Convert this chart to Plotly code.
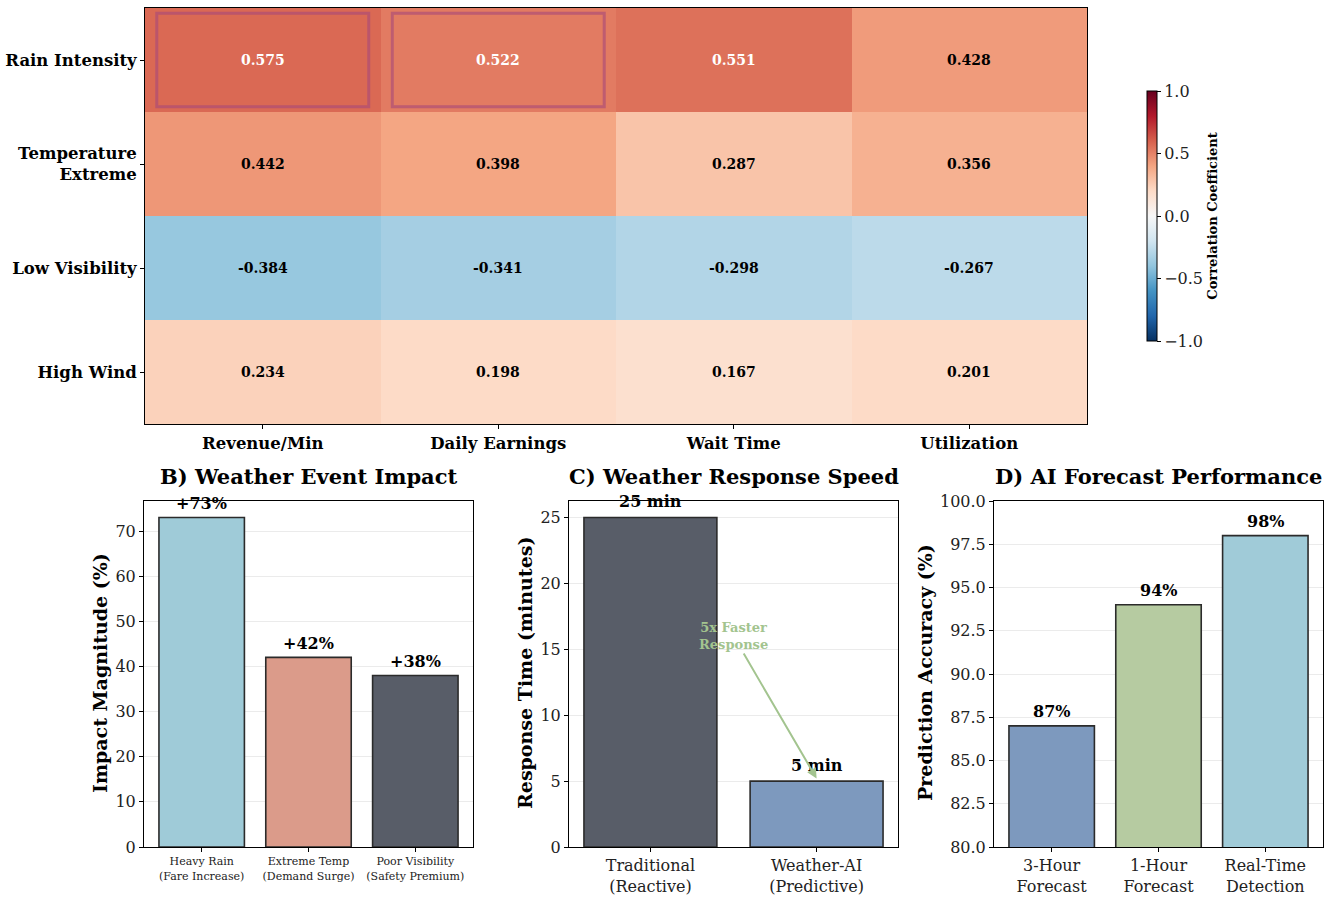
import plotly.graph_objects as go

# ---------------- data ----------------
weather_factors = ["Rain Intensity", "Temperature<br>Extreme", "Low Visibility", "High Wind"]
metrics = ["Revenue/Min", "Daily Earnings", "Wait Time", "Utilization"]
corr_values = [
    [0.575, 0.522, 0.551, 0.428],
    [0.442, 0.398, 0.287, 0.356],
    [-0.384, -0.341, -0.298, -0.267],
    [0.234, 0.198, 0.167, 0.201],
]
highlight_cells = [(0, 0), (0, 1)]  # (row, col)

impact_labels = ["Heavy Rain<br>(Fare Increase)", "Extreme Temp<br>(Demand Surge)", "Poor Visibility<br>(Safety Premium)"]
impact_values = [73, 42, 38]
impact_colors = ["#9FCBD8", "#DB9B8A", "#585D68"]

response_labels = ["Traditional<br>(Reactive)", "Weather-AI<br>(Predictive)"]
response_values = [25, 5]
response_colors = ["#585D68", "#7D99BE"]

forecast_labels = ["3-Hour<br>Forecast", "1-Hour<br>Forecast", "Real-Time<br>Detection"]
forecast_values = [87, 94, 98]
forecast_colors = ["#7D99BE", "#B6CBA1", "#A0CBD8"]

# ---------------- helpers ----------------
W, H = 1332, 897
FONT = "DejaVu Serif"

def px_x(p):
    return p / W

def px_y(p):
    return 1 - p / H

rdbu_r = [
    [0.0, "#053061"], [0.1, "#2166ac"], [0.2, "#4393c3"], [0.3, "#92c5de"],
    [0.4, "#d1e5f0"], [0.5, "#f7f7f7"], [0.6, "#fddbc7"], [0.7, "#f4a582"],
    [0.8, "#d6604d"], [0.9, "#b2182b"], [1.0, "#67001f"],
]

fig = go.Figure()

# ---------------- heatmap ----------------
fig.add_trace(go.Heatmap(
    z=corr_values, x=list(range(len(metrics))), y=list(range(len(weather_factors))),
    colorscale=rdbu_r, zmin=-1, zmax=1, xaxis="x", yaxis="y",
    showscale=True, hoverinfo="skip",
    colorbar=dict(
        x=px_x(1147), xanchor="left", y=px_y(216), yanchor="middle",
        xpad=0, ypad=0,
        thickness=10, thicknessmode="pixels", len=250, lenmode="pixels",
        outlinecolor="black", outlinewidth=1,
        tickvals=[-1, -0.5, 0, 0.5, 1],
        ticktext=["\u22121.0", "\u22120.5", "0.0", "0.5", "1.0"],
        ticks="outside", ticklen=4, tickcolor="black",
        tickfont=dict(family=FONT, size=16, color="#222"),
        title=dict(text="<b>Correlation Coefficient</b>", side="right",
                   font=dict(family=FONT, size=13, color="black")),
    ),
))

annotations = []
for i, row in enumerate(corr_values):
    for j, v in enumerate(row):
        annotations.append(dict(
            x=j, y=i, xref="x", yref="y", text=f"<b>{v:.3f}</b>", showarrow=False,
            font=dict(family=FONT, size=14, color="white" if abs(v) > 0.5 else "black"),
        ))

shapes = []
for (r, c) in highlight_cells:
    shapes.append(dict(
        type="rect", xref="x", yref="y", x0=c - 0.45, x1=c + 0.45, y0=r - 0.45, y1=r + 0.45,
        line=dict(color="rgba(170,75,120,0.65)", width=3), fillcolor="rgba(0,0,0,0)",
    ))

# ---------------- bar panels ----------------
def bar_trace(labels, values, colors, xa, ya):
    return go.Bar(
        x=list(range(len(labels))), y=values, width=0.8,
        marker=dict(color=colors, line=dict(color="#2b2b2b", width=1.6)),
        xaxis=xa, yaxis=ya, hoverinfo="skip", showlegend=False,
    )

fig.add_trace(bar_trace(impact_labels, impact_values, impact_colors, "x2", "y2"))
fig.add_trace(bar_trace(response_labels, response_values, response_colors, "x3", "y3"))
fig.add_trace(bar_trace(forecast_labels, forecast_values, forecast_colors, "x4", "y4"))

for j, v in enumerate(impact_values):
    annotations.append(dict(x=j, y=v, xref="x2", yref="y2", text=f"<b>+{v}%</b>", showarrow=False,
                            yanchor="bottom", yshift=2, font=dict(family=FONT, size=16, color="black")))
for j, v in enumerate(response_values):
    annotations.append(dict(x=j, y=v, xref="x3", yref="y3", text=f"<b>{v} min</b>", showarrow=False,
                            yanchor="bottom", yshift=4, font=dict(family=FONT, size=16, color="black")))
for j, v in enumerate(forecast_values):
    annotations.append(dict(x=j, y=v, xref="x4", yref="y4", text=f"<b>{v}%</b>", showarrow=False,
                            yanchor="bottom", yshift=3, font=dict(family=FONT, size=16, color="black")))

# arrow annotation in C
annotations.append(dict(
    x=1, y=5.2, xref="x3", yref="y3", ax=0.5, ay=16, axref="x3", ayref="y3",
    text="<b>5x Faster<br>Response</b>", showarrow=True, arrowhead=2, arrowsize=1,
    arrowwidth=2, arrowcolor="#A3C48F", font=dict(family=FONT, size=13, color="#A3C48F"),
))

# panel titles
for text, xc in [("B) Weather Event Impact", (144 + 473) / 2),
                 ("C) Weather Response Speed", (569 + 898) / 2),
                 ("D) AI Forecast Performance", (994 + 1323) / 2)]:
    annotations.append(dict(x=px_x(xc), y=px_y(476), xref="paper", yref="paper", text=f"<b>{text}</b>",
                            xanchor="center", yanchor="middle",
                            showarrow=False, font=dict(family=FONT, size=21, color="black")))

# y axis titles
for text, xc in [("Impact Magnitude (%)", 100), ("Response Time (minutes)", 525), ("Prediction Accuracy (%)", 925)]:
    annotations.append(dict(x=px_x(xc), y=px_y(673), xref="paper", yref="paper", text=f"<b>{text}</b>",
                            xanchor="center", yanchor="middle",
                            showarrow=False, textangle=-90, font=dict(family=FONT, size=19, color="black")))

axis_common = dict(showline=True, mirror=True, linecolor="black", linewidth=1,
                   ticks="outside", ticklen=4, tickcolor="black", automargin=False, zeroline=False,
                   tickfont=dict(family=FONT, size=16, color="#222"))

bot_dom = [px_y(847), px_y(501)]

fig.update_layout(
    width=W, height=H, margin=dict(l=0, r=0, t=0, b=0),
    paper_bgcolor="white", plot_bgcolor="white", showlegend=False,
    font=dict(family=FONT),
    annotations=annotations, shapes=shapes,
    xaxis=dict(domain=[px_x(145), px_x(1087)], range=[-0.5, 3.5],
               tickvals=list(range(len(metrics))), ticktext=[f"<b>{m}</b>" for m in metrics],
               showgrid=False, anchor="y",
               **{**axis_common, "tickfont": dict(family=FONT, size=16.5, color="black")}),
    yaxis=dict(domain=[px_y(424), px_y(8)], range=[3.5, -0.5],
               tickvals=list(range(len(weather_factors))), ticktext=[f"<b>{w}</b>" for w in weather_factors],
               showgrid=False, anchor="x",
               **{**axis_common, "tickfont": dict(family=FONT, size=16.5, color="black")}),
    xaxis2=dict(domain=[px_x(144), px_x(473)], range=[-0.54, 2.54], anchor="y2",
                tickvals=list(range(len(impact_labels))), ticktext=impact_labels, showgrid=False,
                **{**axis_common, "tickfont": dict(family=FONT, size=11, color="#222")}),
    yaxis2=dict(domain=bot_dom, range=[0, 76.65], anchor="x2", dtick=10,
                showgrid=True, gridcolor="rgba(0,0,0,0.08)", **axis_common),
    xaxis3=dict(domain=[px_x(569), px_x(898)], range=[-0.49, 1.49], anchor="y3",
                tickvals=list(range(len(response_labels))), ticktext=response_labels, showgrid=False,
                **axis_common),
    yaxis3=dict(domain=bot_dom, range=[0, 26.25], anchor="x3", dtick=5,
                showgrid=True, gridcolor="rgba(0,0,0,0.08)", **axis_common),
    xaxis4=dict(domain=[px_x(994), px_x(1323)], range=[-0.54, 2.54], anchor="y4",
                tickvals=list(range(len(forecast_labels))), ticktext=forecast_labels, showgrid=False,
                **axis_common),
    yaxis4=dict(domain=bot_dom, range=[80, 100], anchor="x4", dtick=2.5, tickformat=".1f",
                showgrid=True, gridcolor="rgba(0,0,0,0.08)", **axis_common),
)

fig.write_html("out.html", config={"displayModeBar": False},
               post_script="document.body.style.margin='0';document.body.style.overflow='hidden';")
